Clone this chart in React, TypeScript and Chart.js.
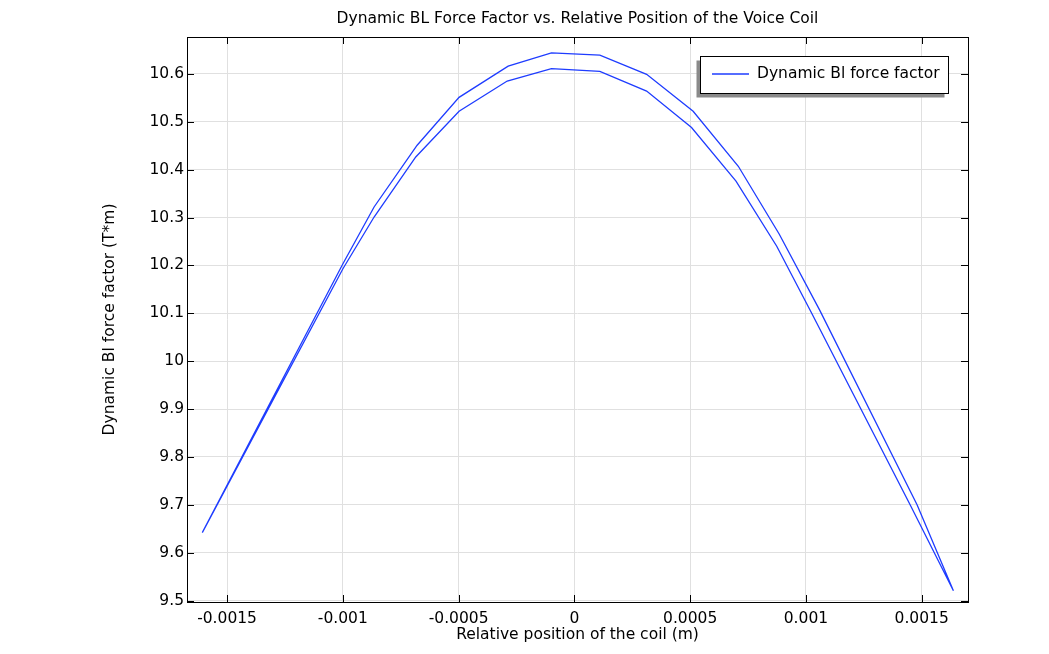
import { useEffect, useRef } from "react";
import { Chart, registerables } from "chart.js";

Chart.register(...registerables);

const chartTitle = "Dynamic BL Force Factor vs. Relative Position of the Voice Coil";
const xAxisTitle = "Relative position of the coil (m)";
const yAxisTitle = "Dynamic Bl force factor (T*m)";
const seriesLabel = "Dynamic Bl force factor";

// coil position (m), going out along the upper branch and back along the lower branch
const coilPosition = [
  -0.001607, -0.000999, -0.000865, -0.000679, -0.000498, -0.000286, -0.000099,
  0.00011, 0.000312, 0.000513, 0.000708, 0.000885, 0.00106, 0.00148, 0.001637,
  0.00145, 0.001025, 0.000874, 0.000698, 0.000506, 0.000312, 0.00011, -0.000099,
  -0.00029, -0.000498, -0.000685, -0.000865, -0.000999, -0.001607,
];
// Bl force factor (T*m)
const blFactor = [
  9.642, 10.204, 10.322, 10.451, 10.551, 10.616, 10.644,
  10.639, 10.599, 10.522, 10.407, 10.265, 10.106, 9.7, 9.5205,
  9.7, 10.1, 10.24, 10.376, 10.488, 10.564, 10.605, 10.611,
  10.585, 10.522, 10.4265, 10.301, 10.1935, 9.642,
];

const xTicks = [-0.0015, -0.001, -0.0005, 0, 0.0005, 0.001, 0.0015];
const yTicks = [9.5, 9.6, 9.7, 9.8, 9.9, 10, 10.1, 10.2, 10.3, 10.4, 10.5, 10.6];

const FONT = "'DejaVu Sans', sans-serif";
const FS = 15.5;
const LINE_COLOR = "rgb(30, 60, 255)";

const fmt = (v: number) => String(Number(v.toFixed(6)));

const framePlugin = {
  id: "comsolFrame",
  afterDraw(chart: any) {
    const { ctx, chartArea } = chart;
    const { left, right, top, bottom } = chartArea;
    const xs = chart.scales.x;
    const ys = chart.scales.y;
    ctx.save();
    // frame
    ctx.strokeStyle = "#000";
    ctx.lineWidth = 1;
    ctx.strokeRect(Math.round(left) + 0.5, Math.round(top) + 0.5, Math.round(right - left), Math.round(bottom - top));
    // inward ticks
    const tl = 7;
    ctx.beginPath();
    for (const v of xTicks) {
      const px = Math.round(xs.getPixelForValue(v)) + 0.5;
      ctx.moveTo(px, bottom);
      ctx.lineTo(px, bottom - tl);
      ctx.moveTo(px, top);
      ctx.lineTo(px, top + tl);
    }
    for (const v of yTicks) {
      const py = Math.round(ys.getPixelForValue(v)) + 0.5;
      ctx.moveTo(left, py);
      ctx.lineTo(left + tl, py);
      ctx.moveTo(right, py);
      ctx.lineTo(right - tl, py);
    }
    ctx.stroke();

    // title
    ctx.fillStyle = "#000";
    ctx.font = `${FS}px ${FONT}`;
    ctx.textAlign = "center";
    ctx.textBaseline = "middle";
    ctx.fillText(chartTitle, (left + right) / 2, 19);

    // legend
    const ds = chart.data.datasets[0];
    const bx = 700.5, by = 56.5, bw = 248, bh = 37;
    ctx.fillStyle = "#8a8a8a";
    ctx.fillRect(bx - 4, by + 4, bw, bh);
    ctx.fillStyle = "#fff";
    ctx.fillRect(bx, by, bw, bh);
    ctx.strokeStyle = "#000";
    ctx.lineWidth = 1;
    ctx.strokeRect(bx, by, bw, bh);
    ctx.strokeStyle = ds.borderColor;
    ctx.lineWidth = 1.3;
    ctx.beginPath();
    ctx.moveTo(712, 74);
    ctx.lineTo(749, 74);
    ctx.stroke();
    ctx.fillStyle = "#000";
    ctx.font = `${FS}px ${FONT}`;
    ctx.textAlign = "left";
    ctx.textBaseline = "middle";
    ctx.fillText(ds.label, 757, 74);
    ctx.restore();
  },
};

export default function App() {
  const ref = useRef<HTMLCanvasElement | null>(null);

  useEffect(() => {
    if (!ref.current) return;
    const points = coilPosition.map((x, i) => ({ x, y: blFactor[i] }));
    const chart = new Chart(ref.current, {
      type: "scatter",
      data: {
        datasets: [
          {
            label: seriesLabel,
            data: points,
            showLine: true,
            borderColor: LINE_COLOR,
            backgroundColor: LINE_COLOR,
            borderWidth: 1.3,
            pointRadius: 0,
            tension: 0,
            fill: false,
          },
        ],
      },
      options: {
        animation: false,
        responsive: false,
        devicePixelRatio: 1,
        layout: { padding: { left: 0, top: 37, right: 81, bottom: 0 } },
        plugins: {
          legend: { display: false },
          title: { display: false },
          tooltip: { enabled: false },
        },
        scales: {
          x: {
            type: "linear",
            min: -0.001673,
            max: 0.0017,
            afterBuildTicks: (s: any) => {
              s.ticks = xTicks.map((value) => ({ value }));
            },
            afterFit: (s: any) => {
              s.height = 52;
            },
            ticks: {
              callback: (v: any) => fmt(Number(v)),
              font: { family: FONT, size: FS },
              color: "#000",
              padding: 8,
              maxRotation: 0,
              autoSkip: false,
            },
            grid: { color: "#e0e0e0", drawTicks: false, lineWidth: 1 },
            border: { display: false },
            title: {
              display: true,
              text: xAxisTitle,
              font: { family: FONT, size: FS },
              color: "#000",
              padding: { top: 0, bottom: 10 },
            },
          },
          y: {
            type: "linear",
            min: 9.497,
            max: 10.677,
            afterBuildTicks: (s: any) => {
              s.ticks = yTicks.map((value) => ({ value }));
            },
            afterFit: (s: any) => {
              s.width = 187;
            },
            ticks: {
              callback: (v: any) => fmt(Number(v)),
              font: { family: FONT, size: FS },
              color: "#000",
              padding: 3,
              autoSkip: false,
            },
            grid: { color: "#e0e0e0", drawTicks: false, lineWidth: 1 },
            border: { display: false },
            title: {
              display: true,
              text: yAxisTitle,
              font: { family: FONT, size: FS },
              color: "#000",
              padding: { top: 101, bottom: 0 },
            },
          },
        },
      },
      plugins: [framePlugin],
    });
    return () => chart.destroy();
  }, []);

  return (
    <div style={{ position: "fixed", left: 0, top: 0, width: 1049, height: 654, background: "#fff" }}>
      <canvas ref={ref} width={1049} height={654} style={{ display: "block", width: 1049, height: 654 }} />
    </div>
  );
}
